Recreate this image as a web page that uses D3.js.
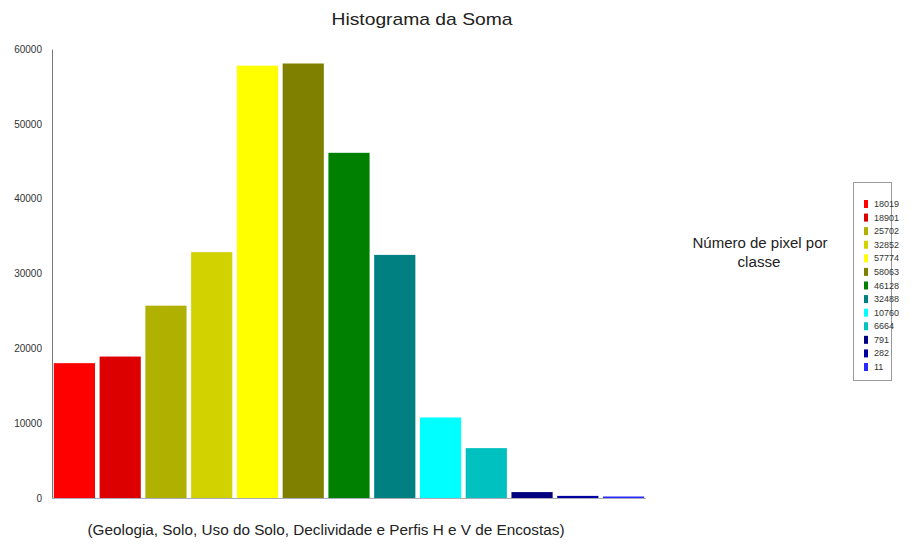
<!DOCTYPE html>
<html><head><meta charset="utf-8">
<script src="https://cdn.jsdelivr.net/npm/d3@7"></script>
<style>body{margin:0;background:#fff}svg{display:block;font-family:Arial,"Liberation Sans",sans-serif}</style>
</head><body><svg id="c" width="914" height="544"></svg>
<script>
const classes = ["c1","c2","c3","c4","c5","c6","c7","c8","c9","c10","c11","c12","c13"];
const values = [18019,18901,25702,32852,57774,58063,46128,32488,10760,6664,791,282,11];
const colors = ["#ff0000","#dc0000","#b0b000","#d2d200","#ffff00","#808000","#008000","#008080","#00ffff","#00c0c0","#000080","#0000a0","#2a2aff"];
const yTicks = [0,10000,20000,30000,40000,50000,60000];

const svg = d3.select("#c");
const x = d3.scaleBand().domain(classes).range([52,646]).paddingInner(0.1).paddingOuter(0.04);
const y = d3.scaleLinear().domain([0,60000]).range([498,49]);

svg.append("text").attr("x",422).attr("y",25).attr("text-anchor","middle")
  .attr("font-size",17).attr("fill","#222").attr("textLength",181).attr("lengthAdjust","spacingAndGlyphs")
  .text("Histograma da Soma");

svg.selectAll("rect.bar").data(values).join("rect").attr("class","bar")
  .attr("x",(d,i)=>x(classes[i])).attr("width",x.bandwidth())
  .attr("y",d=>Math.min(y(d), y(0)-1.5)).attr("height",d=>Math.max(y(0)-y(d),1.5))
  .attr("fill",(d,i)=>colors[i]);

const yAxis = svg.append("g").attr("transform","translate(52,0)")
  .call(d3.axisLeft(y).tickValues(yTicks).tickSize(0).tickPadding(10).tickFormat(d3.format("d")));
yAxis.select(".domain").attr("stroke","#777");
yAxis.selectAll("text").attr("font-size",10).attr("fill","#333").attr("font-family","Arial, sans-serif");

svg.append("line").attr("x1",52).attr("x2",646).attr("y1",498.5).attr("y2",498.5).attr("stroke","#aab");

svg.append("text").attr("x",326).attr("y",535).attr("text-anchor","middle")
  .attr("font-size",14).attr("fill","#222").attr("textLength",477).attr("lengthAdjust","spacingAndGlyphs")
  .text("(Geologia, Solo, Uso do Solo, Declividade e Perfis H e V de Encostas)");

const lt = svg.append("text").attr("text-anchor","middle").attr("font-size",14).attr("fill","#222");
lt.append("tspan").attr("x",760).attr("y",248).attr("textLength",135).attr("lengthAdjust","spacingAndGlyphs").text("Número de pixel por");
lt.append("tspan").attr("x",759).attr("y",267).attr("textLength",43).attr("lengthAdjust","spacingAndGlyphs").text("classe");

svg.append("rect").attr("x",853.5).attr("y",182.5).attr("width",38).attr("height",198)
  .attr("fill","#fff").attr("stroke","#999");
const ly = d3.scalePoint().domain(classes).range([204,367]);
const lg = svg.selectAll("g.leg").data(values).join("g").attr("class","leg")
  .attr("transform",(d,i)=>`translate(864,${ly(classes[i])})`);
lg.append("rect").attr("x",0).attr("y",-4).attr("width",4).attr("height",8).attr("fill",(d,i)=>colors[i]);
lg.append("text").attr("x",10).attr("y",3).attr("font-size",9).attr("fill","#333").text(d=>d);
</script></body></html>
